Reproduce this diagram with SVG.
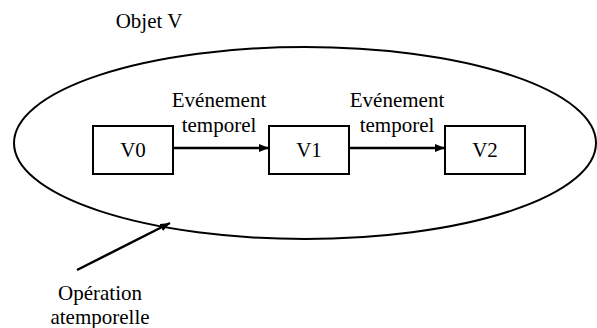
<svg xmlns="http://www.w3.org/2000/svg" width="597" height="328" viewBox="0 0 597 328">
<style>
text{font-family:'Liberation Serif','Times New Roman',serif;font-size:21px;fill:#000;text-anchor:middle}
.box{fill:#fff;stroke:#000;stroke-width:2}
.conn{stroke:#000;stroke-width:2.5;fill:none}
</style>
<defs>
<marker id="ah" markerWidth="10" markerHeight="8" refX="10" refY="4" orient="auto" markerUnits="userSpaceOnUse">
<path d="M0,0 L10,4 L0,8 Z" fill="#000"/>
</marker>
</defs>
<rect width="597" height="328" fill="#fff"/>
<g id="objet">
<ellipse cx="305" cy="143" rx="291" ry="96" fill="none" stroke="#000" stroke-width="2"/>
<text x="149" y="28">Objet V</text>
</g>
<g id="v0"><rect class="box" x="93" y="126" width="80" height="48"/><text x="133" y="157">V0</text></g>
<g id="v1"><rect class="box" x="269" y="126" width="80" height="48"/><text x="309" y="157">V1</text></g>
<g id="v2"><rect class="box" x="445" y="126" width="80" height="48"/><text x="485" y="157">V2</text></g>
<g id="connectors">
<line class="conn" x1="173" y1="148" x2="269" y2="148" marker-end="url(#ah)"/>
<line class="conn" x1="349" y1="148" x2="445" y2="148" marker-end="url(#ah)"/>
<line class="conn" x1="77" y1="270" x2="170" y2="223" marker-end="url(#ah)"/>
</g>
<g id="labels">
<text x="219" y="107">Evénement</text>
<text x="219" y="132">temporel</text>
<text x="397" y="107">Evénement</text>
<text x="397" y="132">temporel</text>
<text x="100" y="300">Opération</text>
<text x="100" y="324">atemporelle</text>
</g>
</svg>
